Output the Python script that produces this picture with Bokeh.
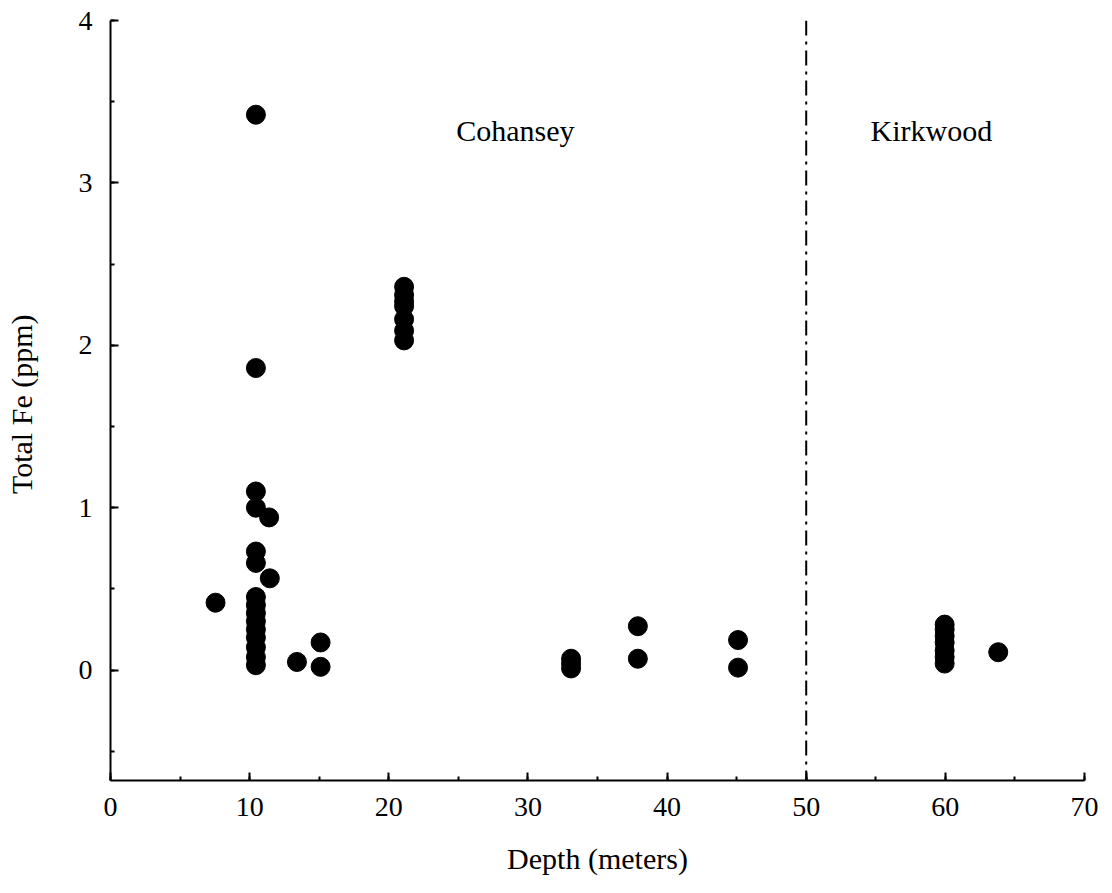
from bokeh.plotting import figure
from bokeh.models import Range1d, Span, Label, SingleIntervalTicker
from bokeh.embed import file_html
from bokeh.resources import INLINE

# Depth (meters) and Total Fe (ppm)
depth = [10.45, 10.45, 10.45, 10.45, 11.4, 10.45, 10.45, 11.45, 7.55,
         10.45, 10.45, 10.45, 10.45, 10.45, 10.45, 10.45, 10.45, 10.45,
         13.4, 15.1, 15.1,
         21.1, 21.1, 21.1, 21.1, 21.1, 21.1, 21.1,
         33.1, 33.1, 33.1,
         37.9, 37.9,
         45.1, 45.1,
         59.95, 59.95, 59.95, 59.95, 59.95, 59.95, 59.95,
         63.8]
fe = [3.42, 1.86, 1.10, 1.00, 0.94, 0.73, 0.66, 0.565, 0.415,
      0.45, 0.40, 0.35, 0.30, 0.25, 0.20, 0.14, 0.08, 0.03,
      0.05, 0.17, 0.02,
      2.36, 2.31, 2.27, 2.24, 2.16, 2.09, 2.03,
      0.07, 0.04, 0.01,
      0.27, 0.07,
      0.185, 0.015,
      0.28, 0.25, 0.21, 0.17, 0.12, 0.08, 0.04,
      0.11]

boundary_depth = 50
formations = ["Cohansey", "Kirkwood"]
formation_x = [29.1, 59.0]
formation_y = [3.32, 3.32]

FONT = "Liberation Serif"

p = figure(width=1112, height=893, output_backend="svg", toolbar_location=None,
           x_range=Range1d(0, 70), y_range=Range1d(-0.68, 4.0),
           min_border_left=110, min_border_right=28, min_border_top=20,
           min_border_bottom=113)

p.scatter(depth, fe, size=19, fill_color="black", line_color="black")

p.add_layout(Span(location=boundary_depth, dimension="height", line_color="black",
                  line_width=2, line_dash="15 6 3 6"))

for name, fx, fy in zip(formations, formation_x, formation_y):
    p.add_layout(Label(x=fx, y=fy, text=name, text_align="center",
                       text_baseline="middle", text_font=FONT,
                       text_font_size="30px", text_color="black"))

p.xaxis.ticker = SingleIntervalTicker(interval=10, num_minor_ticks=2)
p.yaxis.ticker = SingleIntervalTicker(interval=1, num_minor_ticks=2)

for ax in (p.xaxis[0], p.yaxis[0]):
    ax.axis_line_width = 2
    ax.axis_line_color = "black"
    ax.major_tick_in = 8
    ax.major_tick_out = 0
    ax.minor_tick_in = 4
    ax.minor_tick_out = 0
    ax.major_tick_line_width = 2
    ax.minor_tick_line_width = 2
    ax.major_tick_line_color = "black"
    ax.minor_tick_line_color = "black"
    ax.major_label_text_font = FONT
    ax.major_label_text_font_size = "28px"
    ax.major_label_text_color = "black"
    ax.axis_label_text_font = FONT
    ax.axis_label_text_font_size = "30px"
    ax.axis_label_text_font_style = "normal"
    ax.axis_label_text_color = "black"

p.xaxis.axis_label = "Depth (meters)"
p.yaxis.axis_label = "Total Fe  (ppm)"
p.xaxis.major_label_standoff = 17
p.xaxis.axis_label_standoff = 23
p.yaxis.major_label_standoff = 18
p.yaxis.axis_label_standoff = 38
p.yaxis.major_label_orientation = "horizontal"

p.grid.visible = False
p.outline_line_color = None
p.background_fill_color = "white"
p.border_fill_color = "white"

open("out.html", "w").write(file_html(p, INLINE))
